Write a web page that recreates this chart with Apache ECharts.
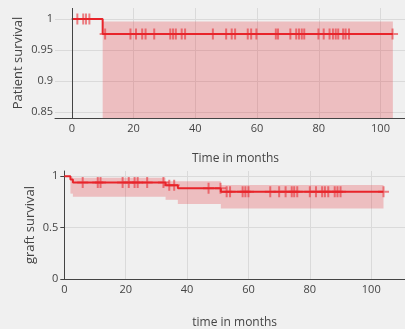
<!DOCTYPE html>
<html lang="en">
<head>
<meta charset="UTF-8">
<title>Patient and graft survival</title>
<script src="https://cdn.jsdelivr.net/npm/echarts@6/dist/echarts.min.js"></script>
<style>
    html, body { margin: 0; padding: 0; background: #f0f0f0; }
</style>
</head>
<body>
<div id="chart" style="width:405px;height:329px;"></div>
<script>
    // patient survival (top)
    var patStepX = [0, 10, 104];
    var patStepY = [1, 0.9756, 0.9756];
    var patCensor = [1.8, 3.7, 4.6, 5.7, 10.8, 19, 20.8, 22.8, 23.9, 26.7, 31.9, 32.8, 33.7, 35.6, 36.7,
        45.7, 50, 51.8, 52.9, 57, 58.1, 59.8, 66.1, 66.8, 70.8, 72.7, 73.6, 74.5, 75.3,
        79.9, 81.6, 83.5, 84.6, 85.5, 86.3, 87.9, 88.7, 89.8, 103.9];
    // CI band: [from, to, lower, upper]
    var patBand = [[10, 104, 0.80, 0.996]];

    // graft survival (bottom)
    var graftStepX = [0, 2, 2.8, 33, 37, 51, 104];
    var graftStepY = [1, 0.968, 0.938, 0.911, 0.882, 0.849, 0.849];
    var graftCensor = [6, 10.9, 11.8, 19, 21, 22.9, 23.9, 27, 32.3, 34.2, 35.8, 47,
        50.9, 52.9, 54, 58.1, 59, 60, 67.1, 70, 72.1, 74.1, 74.9, 75.9,
        80, 82, 84, 84.9, 86, 88.1, 89, 90, 104];
    var graftBand = [[2, 2.8, 0.83, 0.99], [2.8, 33, 0.80, 0.985], [33, 37, 0.77, 0.95],
        [37, 51, 0.73, 0.95], [51, 104, 0.685, 0.915]];

    var xTicks = [0, 20, 40, 60, 80, 100];

    var red = '#e8242a';
    var font = 'Open Sans';

    function stepValue(xs, ys, x) {
        var v = ys[0];
        for (var i = 0; i < xs.length; i++) {
            if (xs[i] <= x) v = ys[i];
        }
        return v;
    }

    function zip(xs, ys) {
        return xs.map(function (x, i) { return [x, ys[i]]; });
    }

    function censorPoints(cx, xs, ys) {
        return cx.map(function (x) { return [x, stepValue(xs, ys, x)]; });
    }

    function bandItem(params, api) {
        var p0 = api.coord([api.value(0), api.value(3)]);
        var p1 = api.coord([api.value(1), api.value(2)]);
        var rect = echarts.graphic.clipRectByRect(
            { x: p0[0], y: p0[1], width: p1[0] - p0[0], height: p1[1] - p0[1] },
            { x: params.coordSys.x, y: params.coordSys.y, width: params.coordSys.width, height: params.coordSys.height }
        );
        if (!rect) return;
        return { type: 'rect', shape: rect, style: { fill: 'rgba(228,40,48,0.25)' } };
    }

    var nameStyle = { color: '#444', fontSize: 12, fontFamily: font };
    var yNameStyle = { color: '#444', fontSize: 13, fontFamily: font };
    var gridLine = { show: true, showMinLine: false, showMaxLine: false, lineStyle: { color: '#dadada', width: 1 } };

    var censorSymbol = 'path://M5 0V10M0 5H10';
    var censorStyle = { color: 'rgba(0,0,0,0)', borderColor: 'rgba(232,36,42,0.7)', borderWidth: 2 };

    var myChart = echarts.init(document.getElementById('chart'));

    var option = {
        backgroundColor: '#f0f0f0',
        animation: false,
        grid: [
            { left: 55, width: 361, top: 8, height: 110, outerBoundsMode: 'none', containLabel: false },
            { left: 64.3, width: 340.7, top: 171, height: 108, outerBoundsMode: 'none', containLabel: false }
        ],
        xAxis: [{
            gridIndex: 0, type: 'value', min: -5.44, max: 111.5,
            minInterval: 20, maxInterval: 20,
            name: 'Time in months', nameLocation: 'middle', nameGap: 35, nameMoveOverlap: false,
            nameTextStyle: nameStyle,
            axisLine: { show: true, onZero: false, lineStyle: { color: '#444', width: 1 } },
            axisTick: { show: false },
            axisLabel: { show: true, margin: 5, customValues: xTicks,
                color: '#444', fontSize: 11, fontFamily: font },
            splitLine: gridLine
        }, {
            gridIndex: 1, type: 'value', min: 0, max: 111,
            minInterval: 20, maxInterval: 20,
            name: 'time in months', nameLocation: 'middle', nameGap: 38, nameMoveOverlap: false,
            nameTextStyle: nameStyle,
            axisLine: { show: true, onZero: false, lineStyle: { color: '#444', width: 1 } },
            axisTick: { show: false },
            axisLabel: { show: true, margin: 5, customValues: xTicks,
                color: '#444', fontSize: 11, fontFamily: font },
            splitLine: gridLine
        }],
        yAxis: [{
            gridIndex: 0, type: 'value', min: 0.84, max: 1.0177,
            minInterval: 0.05, maxInterval: 0.05,
            name: 'Patient survival', nameLocation: 'middle', nameGap: 30, nameMoveOverlap: false,
            nameTextStyle: yNameStyle,
            axisLine: { show: false },
            axisTick: { show: false },
            axisLabel: { margin: 2, showMinLabel: false, showMaxLabel: false,
                color: '#444', fontSize: 11, fontFamily: font },
            splitLine: gridLine
        }, {
            gridIndex: 1, type: 'value', min: 0, max: 1.05,
            minInterval: 0.5, maxInterval: 0.5,
            name: 'graft survival', nameLocation: 'middle', nameGap: 28, nameMoveOverlap: false,
            nameTextStyle: yNameStyle,
            axisLine: { show: true, onZero: false, lineStyle: { color: '#444', width: 1 } },
            axisTick: { show: true, length: 4, lineStyle: { color: '#444' } },
            axisLabel: { margin: 6, showMaxLabel: false,
                color: '#444', fontSize: 11, fontFamily: font },
            splitLine: gridLine
        }],
        series: [{
            type: 'custom', xAxisIndex: 0, yAxisIndex: 0,
            renderItem: bandItem, data: patBand,
            encode: { x: [0, 1], y: [2, 3] }, silent: true
        }, {
            type: 'line', xAxisIndex: 0, yAxisIndex: 0,
            step: 'end', data: zip(patStepX, patStepY),
            symbol: 'none', lineStyle: { color: red, width: 2 },
            markLine: {
                silent: true, symbol: 'none', label: { show: false },
                lineStyle: { color: '#444', width: 1, type: 'solid' },
                data: [{ xAxis: 0 }]
            }
        }, {
            type: 'scatter', xAxisIndex: 0, yAxisIndex: 0,
            data: censorPoints(patCensor, patStepX, patStepY),
            symbol: censorSymbol, symbolSize: 11, itemStyle: censorStyle
        }, {
            type: 'custom', xAxisIndex: 1, yAxisIndex: 1,
            renderItem: bandItem, data: graftBand,
            encode: { x: [0, 1], y: [2, 3] }, silent: true
        }, {
            type: 'line', xAxisIndex: 1, yAxisIndex: 1,
            step: 'end', data: zip(graftStepX, graftStepY),
            symbol: 'none', lineStyle: { color: red, width: 2 }
        }, {
            type: 'scatter', xAxisIndex: 1, yAxisIndex: 1,
            data: censorPoints(graftCensor, graftStepX, graftStepY),
            symbol: censorSymbol, symbolSize: 11, itemStyle: censorStyle
        }]
    };

    myChart.setOption(option);
</script>
</body>
</html>
